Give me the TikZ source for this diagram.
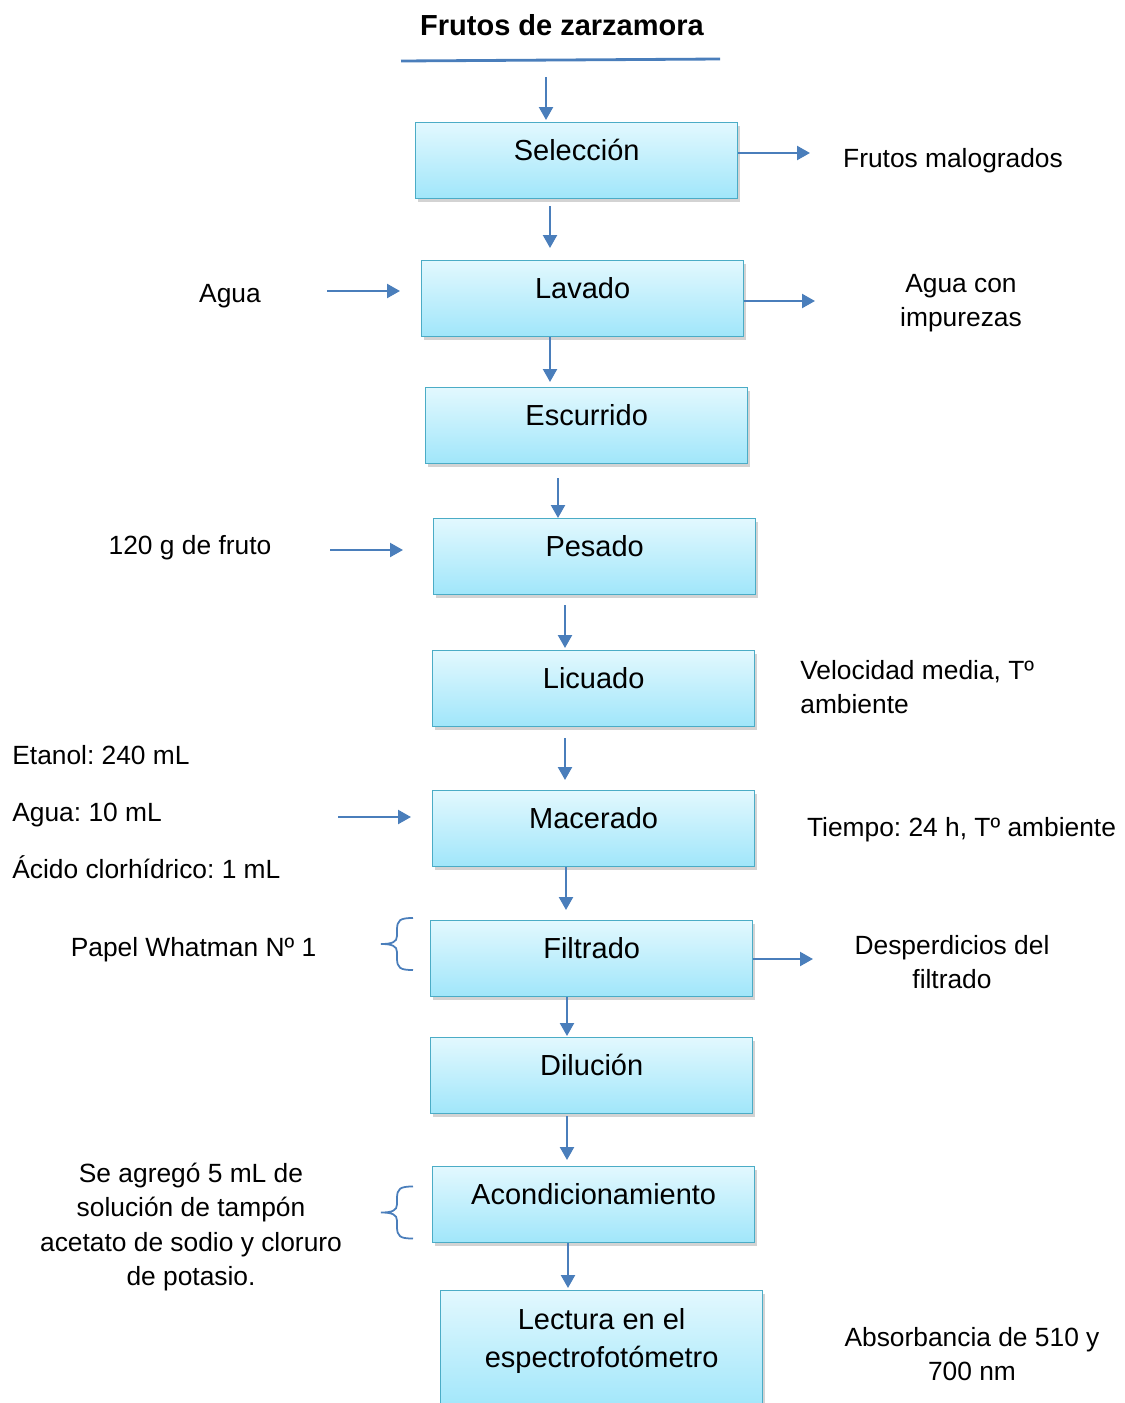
\documentclass[tikz,border=0pt]{standalone}
\usepackage{fontspec}
\setmainfont{Liberation Sans}
\usepackage{tikz}
\usetikzlibrary{arrows.meta,shadows,positioning,calc}
\definecolor{blueline}{RGB}{74,126,187}
\definecolor{cyanedge}{RGB}{75,172,198}
\definecolor{cyantop}{RGB}{226,248,254}
\definecolor{cyanbot}{RGB}{160,230,250}

\begin{document}
\frenchspacing
\begin{tikzpicture}[x=0.02cm,y=-0.02cm,
  mybox/.style={draw=cyanedge,line width=0.8pt,top color=cyantop,bottom color=cyanbot,anchor=north west,minimum width=6.44cm,minimum height=1.52cm,text height=0.5cm,text depth=0.5cm,align=center,font=\fontsize{16.5}{22}\selectfont,drop shadow={shadow xshift=1.5pt,shadow yshift=-2pt,opacity=0.35}},
  mytext/.style={inner sep=0pt,font=\fontsize{15}{19.7}\selectfont},
  myarrow/.style={blueline,line width=1.3pt,-{Triangle[width=0.28cm,length=0.26cm]}}
]
\clip (0,0) rectangle (1125,1403);

\node[font=\fontsize{16.5}{20}\selectfont\bfseries] (titulo) at (562,25) {Frutos de zarzamora};
\draw[blueline,line width=1.6pt] (401,61) -- (720,59);

\node[mybox] (sel) at (415,122) {Selección};
\node[mybox] (lav) at (421,260) {Lavado};
\node[mybox] (esc) at (425,387) {Escurrido};
\node[mybox] (pes) at (433,518) {Pesado};
\node[mybox] (lic) at (432,650) {Licuado};
\node[mybox] (mac) at (432,790) {Macerado};
\node[mybox] (fil) at (430,920) {Filtrado};
\node[mybox] (dil) at (430,1037) {Dilución};
\node[mybox] (aco) at (432,1166) {Acondicionamiento};
\node[mybox,text height=1.44cm,text depth=0.76cm,inner ysep=0.1cm,minimum height=2.4cm] (lec) at (440,1290) {Lectura en el\\espectrofotómetro};

\coordinate (top) at (546,77);
\draw[myarrow,shorten >=0.04cm] (top) -- (top |- sel.north);
\draw[myarrow,shorten <=0.14cm,shorten >=0.24cm] (sel.south -| 550,0) -- (lav.north -| 550,0);
\draw[myarrow,shorten >=0.1cm] (lav.south -| 550,0) -- (esc.north -| 550,0);
\draw[myarrow,shorten <=0.28cm] (esc.south -| 558,0) -- (pes.north -| 558,0);
\draw[myarrow,shorten <=0.2cm,shorten >=0.04cm] (pes.south -| 565,0) -- (lic.north -| 565,0);
\draw[myarrow,shorten <=0.22cm,shorten >=0.2cm] (lic.south -| 565,0) -- (mac.north -| 565,0);
\draw[myarrow,shorten >=0.2cm] (mac.south -| 566,0) -- (fil.north -| 566,0);
\draw[myarrow,shorten >=0.02cm] (fil.south -| 567,0) -- (dil.north -| 567,0);
\draw[myarrow,shorten <=0.04cm,shorten >=0.12cm] (dil.south -| 567,0) -- (aco.north -| 567,0);
\draw[myarrow,shorten >=0.04cm] (aco.south -| 568,0) -- (lec.north -| 568,0);

\node[mytext] (fm) at (953,161) {Frutos malogrados};
\coordinate (fmin) at (810,153);
\draw[myarrow] (sel.east |- fmin) -- (fmin);

\node[mytext] (agua) at (230,296) {Agua};
\coordinate (aguaout) at (327,291);
\draw[myarrow,shorten >=0.42cm] (aguaout) -- (aguaout -| lav.west);

\node[mytext,align=center] (imp) at (961,303) {Agua con\\impurezas};
\coordinate (impin) at (815,301);
\draw[myarrow] (lav.east |- impin) -- (impin);

\node[mytext] (fruto) at (190,548) {120 g de fruto};
\coordinate (frutoout) at (330,550);
\draw[myarrow,shorten >=0.6cm] (frutoout) -- (frutoout -| pes.west);

\node[mytext,align=left,anchor=west] (vel) at (800,687) {Velocidad media, Tº\\ambiente};

\node[mytext,align=left,anchor=west,font=\fontsize{15}{32.3}\selectfont] (reac) at (12,812) {Etanol: 240 mL\\Agua: 10 mL\\Ácido clorhídrico: 1 mL};
\coordinate (macout) at (338,817);
\draw[myarrow,shorten >=0.42cm] (macout) -- (macout -| mac.west);

\node[mytext] (tiempo) at (961.5,830) {Tiempo: 24 h, Tº ambiente};

\node[mytext] (papel) at (193.5,950) {Papel Whatman Nº 1};
\node[mytext,align=center] (desp) at (952,962) {Desperdicios del\\filtrado};
\coordinate (despin) at (813,959);
\draw[myarrow] (fil.east |- despin) -- (despin);

\node[mytext,align=center] (buffer) at (191,1227) {Se agregó 5 mL de\\solución de tampón\\acetato de sodio y cloruro\\de potasio.};
\node[mytext,align=center] (abs) at (972,1354) {Absorbancia de 510 y\\700 nm};

\foreach \yc in {944,1212.5}{
\draw[blueline,line width=1pt] (413,\yc-26) .. controls (400,\yc-26) and (397,\yc-24) .. (397,\yc-14) -- (397,\yc-8) .. controls (397,\yc-2) and (392,\yc) .. (381,\yc) .. controls (392,\yc) and (397,\yc+2) .. (397,\yc+8) -- (397,\yc+14) .. controls (397,\yc+24) and (400,\yc+26) .. (413,\yc+26);
}

\end{tikzpicture}
\end{document}
